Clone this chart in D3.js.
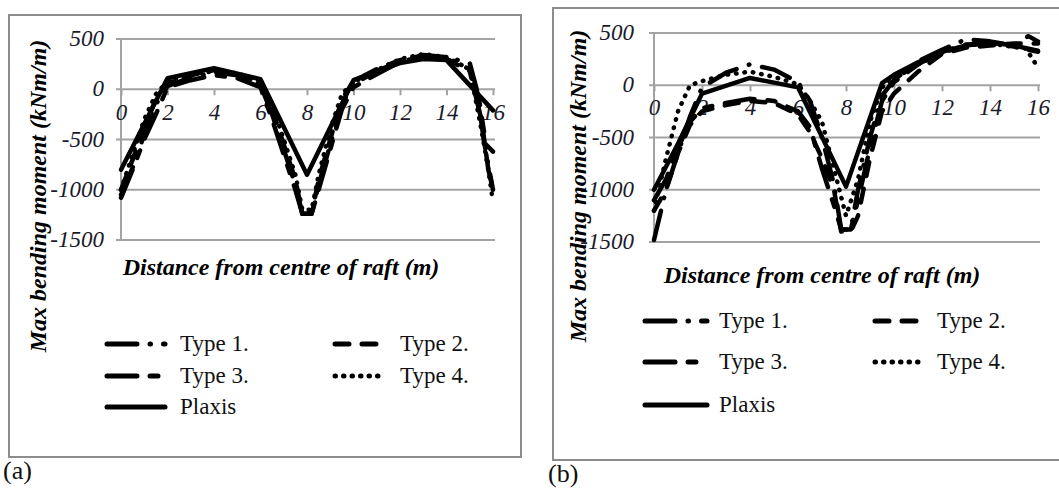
<!DOCTYPE html>
<html>
<head>
<meta charset="utf-8">
<script src="https://cdn.jsdelivr.net/npm/d3@7"></script>
<style>
  body { margin: 0; background: #fff; }
</style>
</head>
<body>
<svg id="chart" width="1059" height="488" font-family="Liberation Serif"></svg>
<script>
// tick values
const xTicks = [0, 2, 4, 6, 8, 10, 12, 14, 16];
const yTicks = [500, 0, -500, -1000, -1500];
const seriesNames = ["Type 1.", "Type 2.", "Type 3.", "Type 4.", "Plaxis"];

// panel (a): [distance (m), moment (kNm/m)]
const type1A = [[0,-1050],[0.5,-780],[1,-450],[1.5,-150],[2,30],[3,120],[4,170],[5,140],[6,40],[6.5,-250],[7,-600],[7.5,-950],[7.8,-1240],[8.2,-1240],[8.5,-950],[9,-550],[9.5,-150],[10,50],[11,180],[12,280],[13,340],[14,320],[15,260],[15.3,0],[15.6,-500],[16,-1000]];
const type2A = [[0,-1000],[0.5,-700],[1,-380],[1.5,-100],[2,60],[3,140],[4,190],[5,150],[6,70],[6.5,-200],[7,-550],[7.5,-900],[7.8,-1240],[8.2,-1240],[8.5,-900],[9,-500],[9.5,-100],[10,80],[11,200],[12,290],[13,330],[14,300],[15,200],[15.4,-100],[15.7,-550],[16,-620]];
const type3A = [[0,-1080],[0.5,-800],[1,-500],[1.5,-250],[2,20],[3,90],[4,140],[5,110],[6,20],[6.5,-300],[7,-650],[7.5,-1000],[7.8,-1240],[8.2,-1240],[8.5,-1000],[9,-600],[9.5,-200],[10,20],[11,150],[12,270],[13,330],[14,300],[15,180],[15.5,-300],[15.8,-800],[16,-1000]];
const type4A = [[0,-1000],[0.5,-650],[1,-300],[1.5,-50],[2,80],[3,150],[4,180],[5,160],[6,80],[6.5,-150],[7,-500],[7.5,-850],[7.8,-1200],[8.2,-1200],[8.5,-850],[9,-400],[9.5,-50],[10,70],[11,190],[12,300],[13,350],[14,320],[15,200],[15.5,-400],[15.8,-800],[16,-1120]];
const plaxisA = [[0,-800],[2,110],[4,210],[6,100],[8,-850],[10,90],[11,180],[12,260],[13,300],[14,290],[16,-210]];

// panel (b)
const type1B = [[0,-1480],[0.5,-1000],[1,-650],[1.5,-300],[2,-20],[3,120],[4,200],[5,150],[6,30],[6.5,-150],[7,-500],[7.5,-950],[7.8,-1380],[8.2,-1380],[8.5,-1000],[9,-500],[9.5,-100],[10,50],[11,230],[12,340],[13,440],[14,420],[15,380],[15.6,470],[16,420]];
const type2B = [[0,-1200],[0.5,-1000],[1,-650],[1.5,-380],[2,-250],[3,-190],[4,-150],[5,-170],[6,-280],[6.5,-450],[7,-700],[7.5,-1000],[7.8,-1400],[8.2,-1400],[8.5,-1250],[9,-700],[9.5,-250],[10,-80],[11,130],[12,300],[13,360],[14,380],[15,400],[16,400]];
const type3B = [[0,-1100],[0.5,-900],[1,-600],[1.5,-350],[2,-220],[3,-170],[4,-130],[5,-150],[6,-250],[6.5,-400],[7,-800],[7.5,-1150],[7.8,-1380],[8.2,-1380],[8.5,-1100],[9,-600],[9.5,-150],[10,30],[11,200],[12,320],[13,390],[14,400],[15,370],[16,320]];
const type4B = [[0,-1200],[0.5,-700],[1,-250],[1.5,0],[2,40],[3,100],[4,130],[5,80],[6,10],[6.5,-150],[7,-350],[7.5,-800],[8,-1250],[8.5,-900],[9,-350],[9.5,-20],[10,60],[11,200],[12,310],[13,380],[14,400],[15.5,350],[16,170]];
const plaxisB = [[0,-1000],[1,-560],[2,-80],[4,70],[6,-20],[8,-970],[9.5,20],[10,100],[11,220],[12,320],[13,380],[14,410],[15,380],[16,330]];

const dashes = ["30,13,0.5,13", "14,13", "30,13,8,13", "0.5,8", null];
const serif = "'Liberation Serif', 'Times New Roman', Times, serif";

const svg = d3.select("#chart");

function drawPanel(p) {
    const g = svg.append("g");

    // panel frame
    g.append("rect")
        .attr("x", p.box[0]).attr("y", p.box[1])
        .attr("width", p.box[2]).attr("height", p.box[3])
        .attr("fill", "#fff").attr("stroke", "#8c8c8c").attr("stroke-width", 2);

    const x = d3.scaleLinear().domain([0, 16]).range([p.x0, p.x1]);
    const y = d3.scaleLinear().domain([-1500, 500]).range([p.yBot, p.yTop]);

    // gridlines (start a little left of the axis, like Excel's tick marks)
    g.selectAll(".grid").data(yTicks).join("line")
        .attr("x1", p.x0 - 5).attr("x2", p.gridEnd)
        .attr("y1", d => y(d)).attr("y2", d => y(d))
        .attr("stroke", "#a3a3a3").attr("stroke-width", 2);
    g.append("line")
        .attr("x1", p.x0).attr("x2", p.x0)
        .attr("y1", y(500)).attr("y2", y(-1500))
        .attr("stroke", "#a3a3a3").attr("stroke-width", 2);

    // y labels
    g.selectAll(".ylab").data(yTicks).join("text")
        .attr("x", p.yLabX).attr("y", d => y(d) + 7)
        .attr("text-anchor", "end")
        .style("font-family", serif)
        .attr("font-size", 23).attr("font-style", "italic").attr("fill", "#1a1a2a")
        .text(d => d);

    // x axis on the zero line
    const xAxis = g.append("g")
        .attr("transform", "translate(0," + y(0) + ")")
        .call(d3.axisBottom(x).tickValues(xTicks).tickSize(6).tickPadding(p.tickPad));
    xAxis.select(".domain").remove();
    xAxis.selectAll(".tick line").attr("stroke", "#a3a3a3").attr("stroke-width", 2);
    xAxis.selectAll(".tick text")
        .style("font-family", serif)
        .attr("font-size", 23).attr("font-style", "italic").attr("fill", "#1a1a2a");

    // series
    const line = d3.line().x(d => x(d[0])).y(d => y(d[1]));
    p.series.forEach((s, i) => {
        g.append("path")
            .datum(s)
            .attr("d", line)
            .attr("fill", "none")
            .attr("stroke", "#000")
            .attr("stroke-width", 4.5)
            .attr("stroke-linecap", "round")
            .attr("stroke-linejoin", "round")
            .attr("stroke-dasharray", dashes[i]);
    });

    // axis titles
    g.append("text")
        .attr("transform", "translate(" + p.yTitle[0] + "," + p.yTitle[1] + ") rotate(-90)")
        .attr("text-anchor", "middle")
        .style("font-family", serif)
        .attr("font-size", 24).attr("font-weight", "bold").attr("font-style", "italic")
        .text("Max bending moment (kNm/m)");
    g.append("text")
        .attr("x", p.xTitle[0]).attr("y", p.xTitle[1])
        .attr("text-anchor", "middle")
        .style("font-family", serif)
        .attr("font-size", 24).attr("font-weight", "bold").attr("font-style", "italic")
        .text("Distance from centre of raft (m)");

    // legend
    seriesNames.forEach((name, i) => {
        const col = i % 2, row = Math.floor(i / 2);
        const lx = p.leg.cols[col], ly = p.leg.rows[row];
        const len = p.leg.len[col];
        g.append("line")
            .attr("x1", lx).attr("x2", lx + len)
            .attr("y1", ly).attr("y2", ly)
            .attr("stroke", "#000").attr("stroke-width", 5)
            .attr("stroke-linecap", "round")
            .attr("stroke-dasharray", dashes[i]);
        g.append("text")
            .attr("x", lx + len + p.leg.gap).attr("y", ly + 7)
            .style("font-family", serif)
            .attr("font-size", 23).attr("fill", "#111")
            .text(name);
    });

    g.append("text")
        .attr("x", p.tag[0]).attr("y", p.tag[1])
        .style("font-family", serif)
        .attr("font-size", 26).attr("fill", "#111")
        .text(p.label);
}

drawPanel({
    box: [9, 15, 512, 442],
    x0: 121, x1: 493, gridEnd: 495, yTop: 39, yBot: 240,
    yLabX: 104, tickPad: 8,
    yTitle: [46, 196], xTitle: [281, 275],
    leg: { cols: [107, 335], rows: [344, 376, 407], len: [58, 50], gap: 15 },
    tag: [3, 479], label: "(a)",
    series: [type1A, type2A, type3A, type4A, plaxisA]
});

drawPanel({
    box: [553, 8, 520, 452],
    x0: 654, x1: 1038, gridEnd: 1040, yTop: 33, yBot: 242,
    yLabX: 634, tickPad: 7,
    yTitle: [586, 186], xTitle: [822, 283],
    leg: { cols: [645, 875], rows: [321, 362, 405], len: [62, 50], gap: 12 },
    tag: [548, 482], label: "(b)",
    series: [type1B, type2B, type3B, type4B, plaxisB]
});
</script>
</body>
</html>
